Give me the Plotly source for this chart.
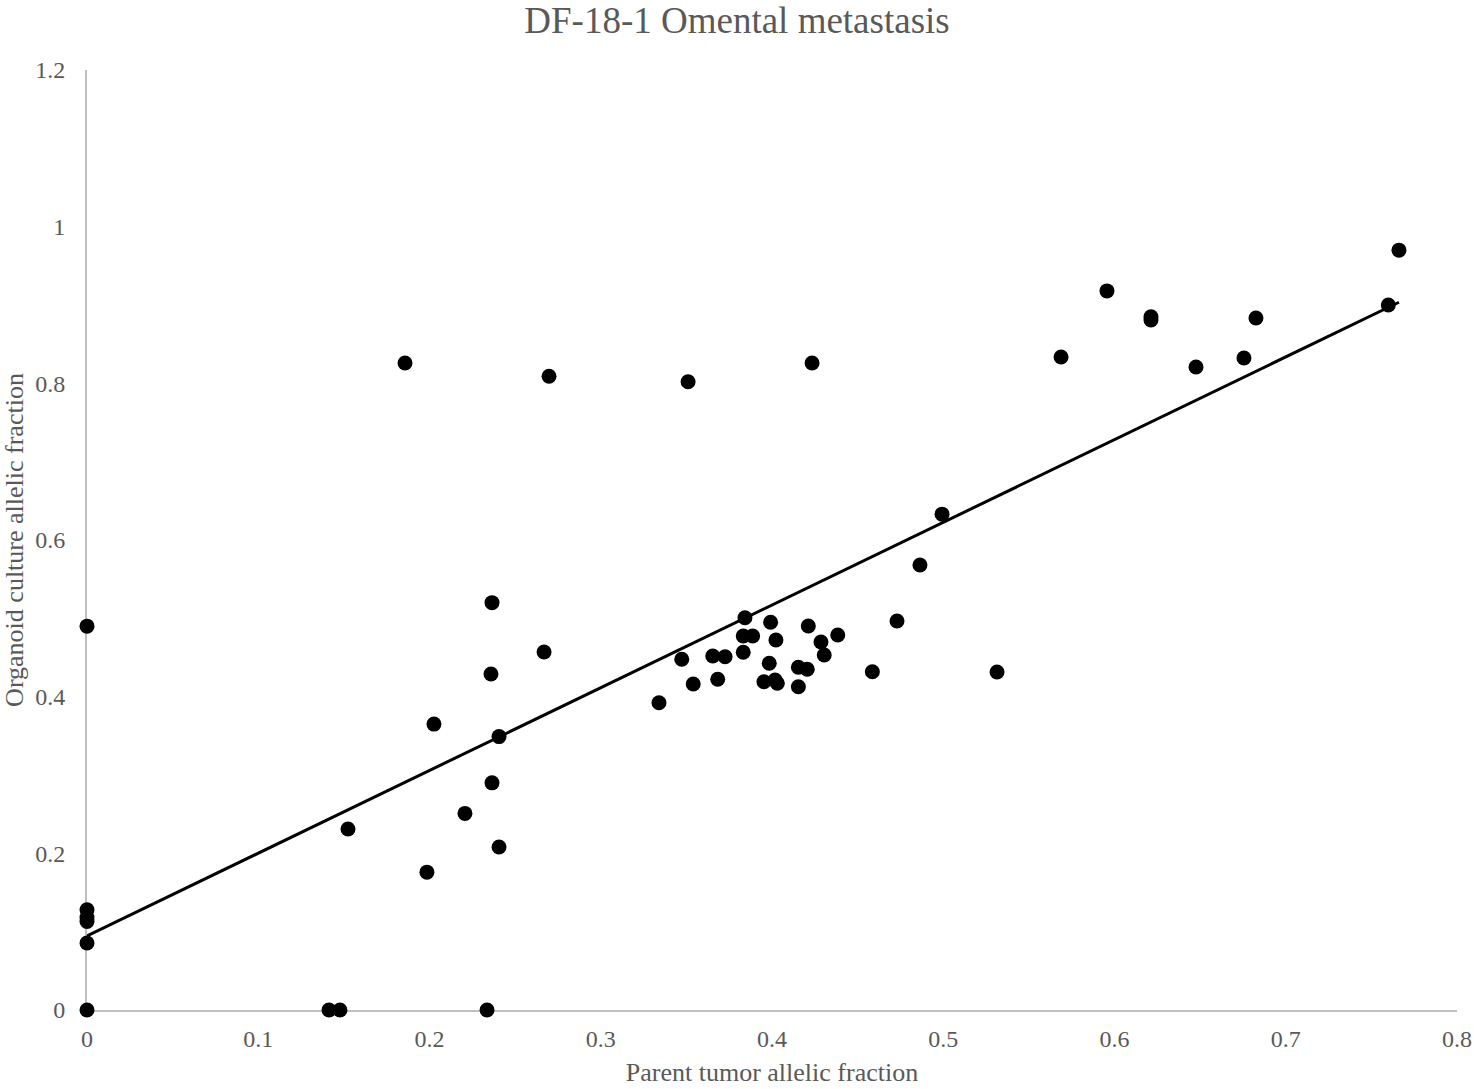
import numpy as np
import plotly.graph_objects as go

parent_af = [
    0.0, 0.0, 0.0, 0.0, 0.0, 0.0,
    0.1413, 0.1477, 0.2336,
    0.1524, 0.1857, 0.1985, 0.2026, 0.2207,
    0.2365, 0.2359, 0.2365, 0.2406, 0.2406,
    0.2669, 0.2698, 0.3510,
    0.3842, 0.3992, 0.4212, 0.3832, 0.3887, 0.4023, 0.4384, 0.4286, 0.4305,
    0.3473, 0.3654, 0.3726, 0.3832, 0.3984, 0.4154, 0.4206,
    0.3540, 0.3683, 0.3953, 0.4018, 0.4031, 0.4154, 0.4586, 0.3340,
    0.4730, 0.4864, 0.4993, 0.5314, 0.4234,
    0.5688, 0.5956, 0.6213, 0.6213, 0.6476, 0.6756, 0.6826, 0.7661, 0.7599,
]
organoid_af = [
    0.490, 0.128, 0.118, 0.113, 0.0855, 0.0,
    0.0, 0.0, 0.0,
    0.231, 0.826, 0.176, 0.365, 0.251,
    0.520, 0.429, 0.290, 0.349, 0.208,
    0.457, 0.809, 0.802,
    0.5008, 0.4950, 0.4902, 0.4775, 0.4775, 0.4723, 0.4787, 0.4698, 0.4532,
    0.4478, 0.4519, 0.4510, 0.4567, 0.4426, 0.4375, 0.4350,
    0.4162, 0.4222, 0.4191, 0.4213, 0.4171, 0.4127, 0.4319, 0.3923,
    0.4966, 0.568, 0.633, 0.4315, 0.826,
    0.8337, 0.918, 0.885, 0.881, 0.8209, 0.8324, 0.8834, 0.970, 0.900,
]

x = np.array(parent_af)
y = np.array(organoid_af)
slope, intercept = np.polyfit(x, y, 1)
tx = np.array([x.min(), x.max()])
ty = slope * tx + intercept

GRAY = "#595959"
FONT = "Liberation Serif, Times New Roman, serif"

fig = go.Figure()
fig.add_trace(go.Scatter(x=x, y=y, mode="markers",
                         marker=dict(size=15, color="black"),
                         cliponaxis=False, showlegend=False))
fig.add_trace(go.Scatter(x=tx, y=ty, mode="lines",
                         line=dict(color="black", width=3),
                         cliponaxis=False, showlegend=False))

fig.update_layout(
    width=1474, height=1089,
    margin=dict(l=87, r=17, t=70, b=79),
    plot_bgcolor="white", paper_bgcolor="white",
    font=dict(family=FONT, color=GRAY, size=24),
    title=dict(text="DF-18-1 Omental metastasis", x=0.5, xanchor="center",
               y=1 - 20 / 1089, yanchor="middle",
               font=dict(family=FONT, size=37, color=GRAY)),
    xaxis=dict(range=[0, 0.8], dtick=0.1, showgrid=False, zeroline=False,
               showline=True, linecolor="#bfbfbf", linewidth=2,
               ticks="", layer="below traces", automargin=False,
               ticklabelstandoff=6,
               tickfont=dict(size=24, color=GRAY),
               title=dict(text="Parent tumor allelic fraction", standoff=12,
                          font=dict(size=26, color=GRAY))),
    yaxis=dict(range=[0, 1.2], dtick=0.2, showgrid=False, zeroline=False,
               showline=True, linecolor="#bfbfbf", linewidth=2,
               ticks="", layer="below traces", automargin=False,
               ticklabelstandoff=15,
               tickfont=dict(size=24, color=GRAY),
               title=dict(text="Organoid culture allelic fraction", standoff=9,
                          font=dict(size=26, color=GRAY))),
)

fig.write_html("out.html")
